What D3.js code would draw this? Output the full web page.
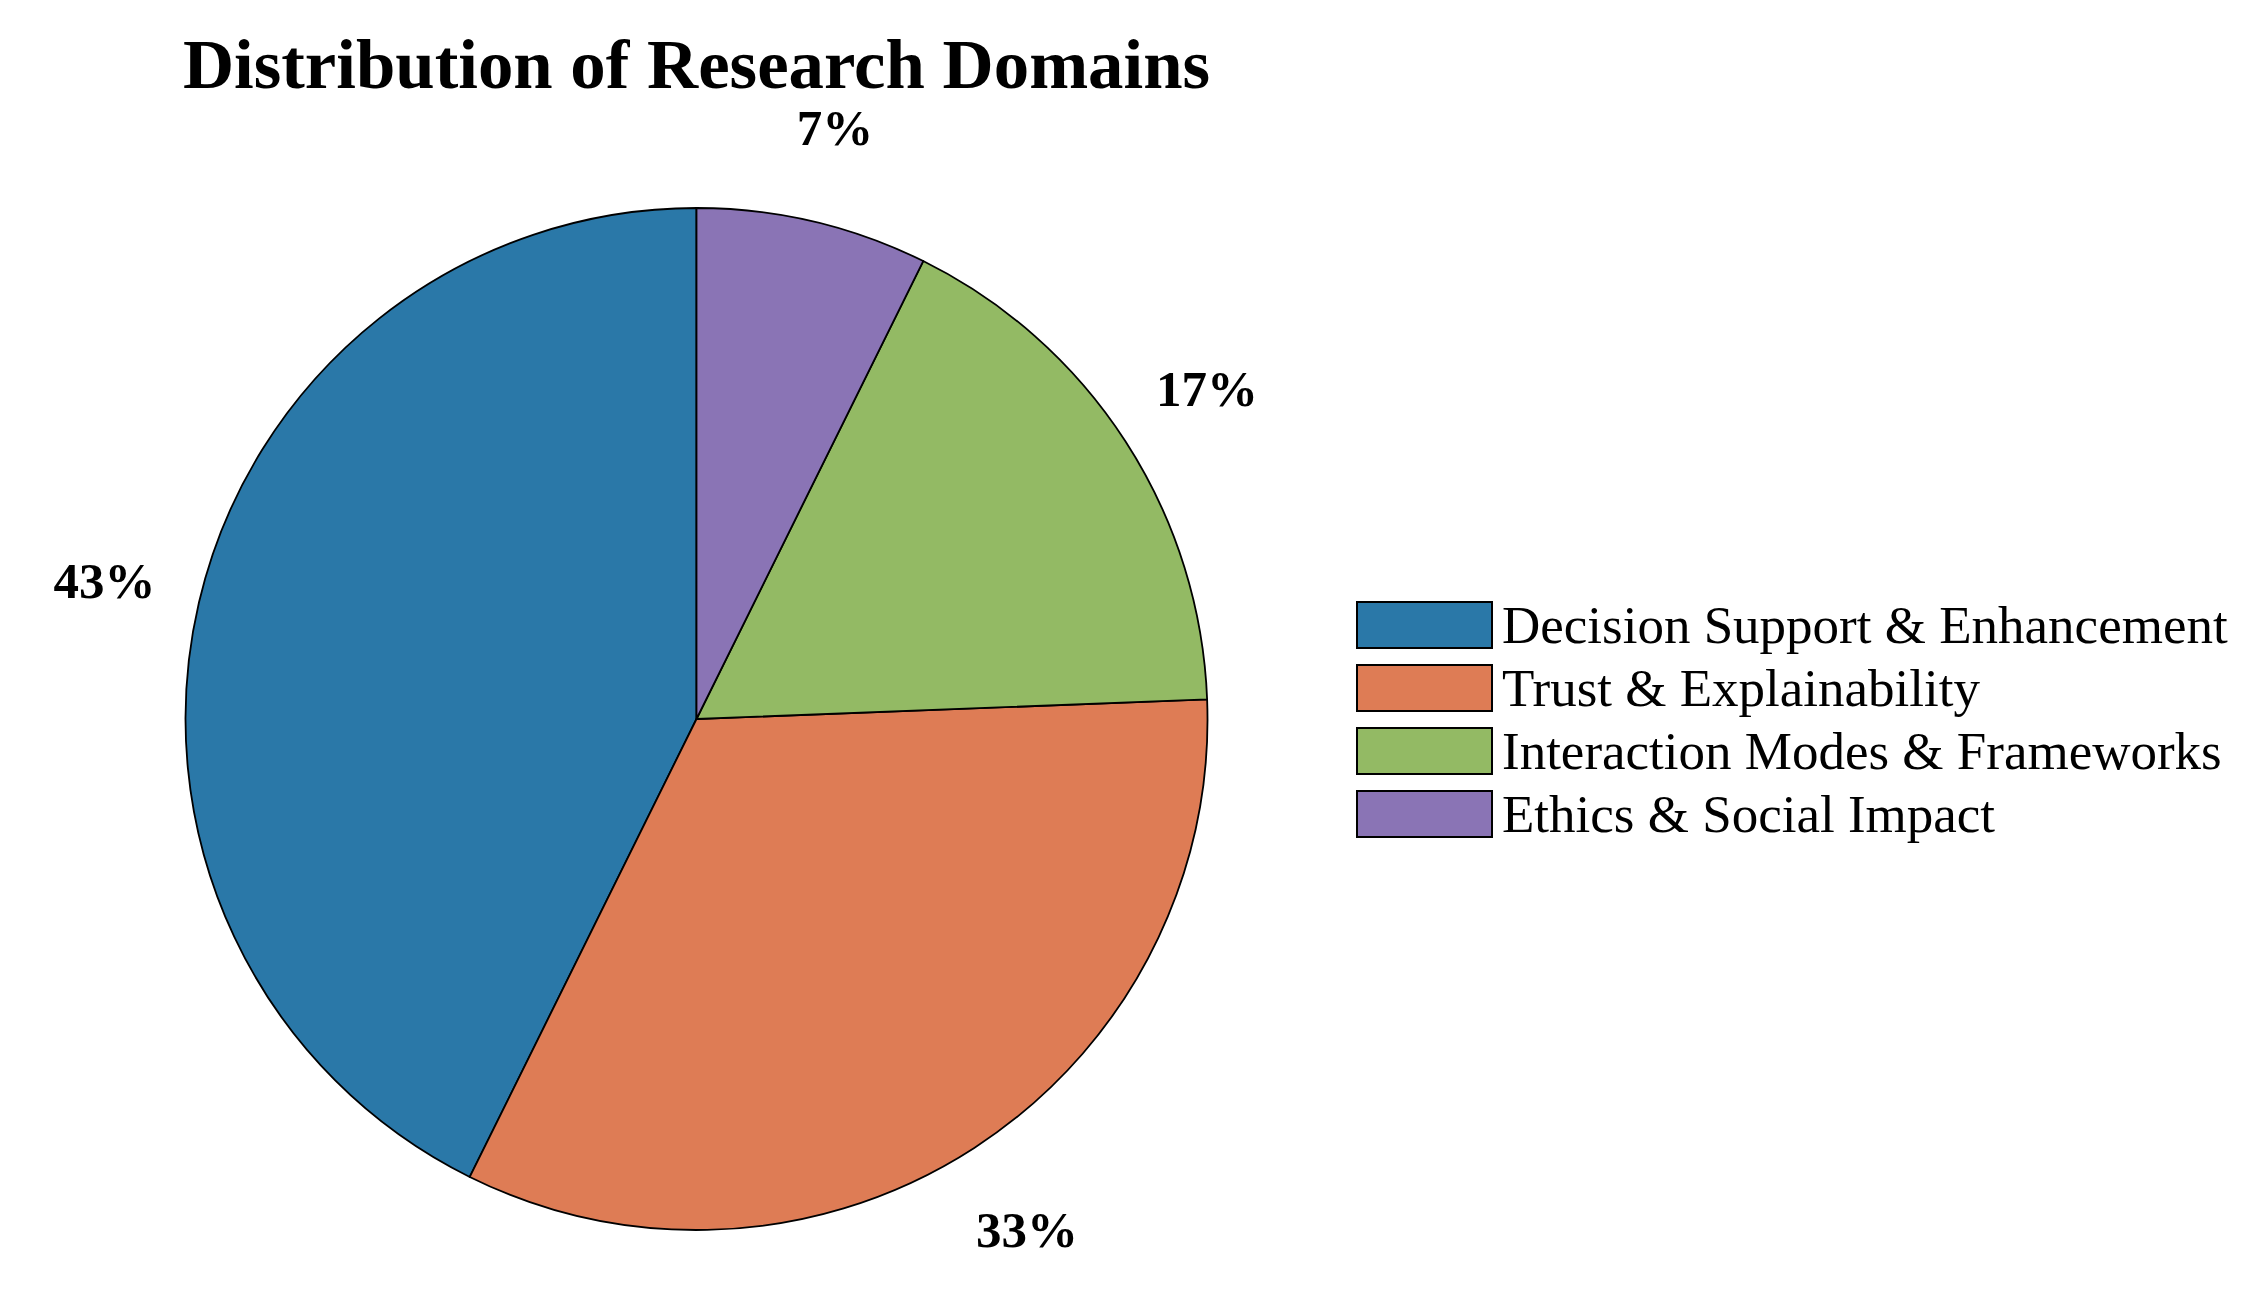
<!DOCTYPE html>
<html>
<head>
<meta charset="utf-8">
<script src="https://cdn.jsdelivr.net/npm/d3@7"></script>
<style>
  html, body { margin: 0; padding: 0; background: #ffffff; }
  svg { display: block; }
</style>
</head>
<body>
<svg id="chart" width="2262" height="1291"></svg>
<script>
// ---- data ----
const categories = [
  "Decision Support & Enhancement",
  "Trust & Explainability",
  "Interaction Modes & Frameworks",
  "Ethics & Social Impact"
];
const values = [35, 27, 14, 6];
const colors = ["#2a78a8", "#de7c55", "#93ba64", "#8a74b5"];
const titleText = "Distribution of Research Domains";

// ---- layout ----
const W = 2262, H = 1291;
const cx = 696.5, cy = 719, R = 511;
const fontFam = "'Liberation Serif', 'Times New Roman', Times, serif";

const svg = d3.select("#chart");

const data = categories.map((c, i) => ({ name: c, value: values[i], color: colors[i] }));
const total = d3.sum(values);

const pie = d3.pie()
  .value(d => d.value)
  .sort(null)
  .startAngle(0)
  .endAngle(-2 * Math.PI);

const arcs = pie(data);
const arc = d3.arc().innerRadius(0).outerRadius(R);
const labelArc = d3.arc().innerRadius(R * 1.19).outerRadius(R * 1.19);

const g = svg.append("g").attr("transform", `translate(${cx},${cy})`);

g.selectAll("path.slice")
  .data(arcs)
  .join("path")
  .attr("class", "slice")
  .attr("d", arc)
  .attr("fill", d => d.data.color)
  .attr("stroke", "#000")
  .attr("stroke-width", 1.8)
  .attr("stroke-linejoin", "round");

const fmt = d3.format(".0%");
g.selectAll("text.pct")
  .data(arcs)
  .join("text")
  .attr("class", "pct")
  .attr("transform", d => `translate(${labelArc.centroid(d)})`)
  .attr("text-anchor", "middle")
  .attr("dy", "0.35em")
  .attr("font-family", fontFam)
  .attr("font-weight", "bold")
  .attr("font-size", 51)
  .attr("fill", "#000")
  .text(d => fmt(d.data.value / total));

// title
svg.append("text")
  .attr("x", cx)
  .attr("y", 88)
  .attr("text-anchor", "middle")
  .attr("font-family", fontFam)
  .attr("font-weight", "bold")
  .attr("font-size", 70.8)
  .attr("fill", "#000")
  .text(titleText);

// legend
const legX = 1357, legY = 602, boxW = 135, boxH = 46, rowH = 63;
const leg = svg.append("g").attr("transform", `translate(${legX},${legY})`);
const rows = leg.selectAll("g.row")
  .data(data)
  .join("g")
  .attr("class", "row")
  .attr("transform", (d, i) => `translate(0,${i * rowH})`);

rows.append("rect")
  .attr("x", 0).attr("y", 0)
  .attr("width", boxW).attr("height", boxH)
  .attr("fill", d => d.color)
  .attr("stroke", "#000")
  .attr("stroke-width", 2);

rows.append("text")
  .attr("x", boxW + 10)
  .attr("y", boxH / 2 + 18)
  .attr("font-family", fontFam)
  .attr("font-size", 53)
  .attr("fill", "#000")
  .text(d => d.name);
</script>
</body>
</html>
